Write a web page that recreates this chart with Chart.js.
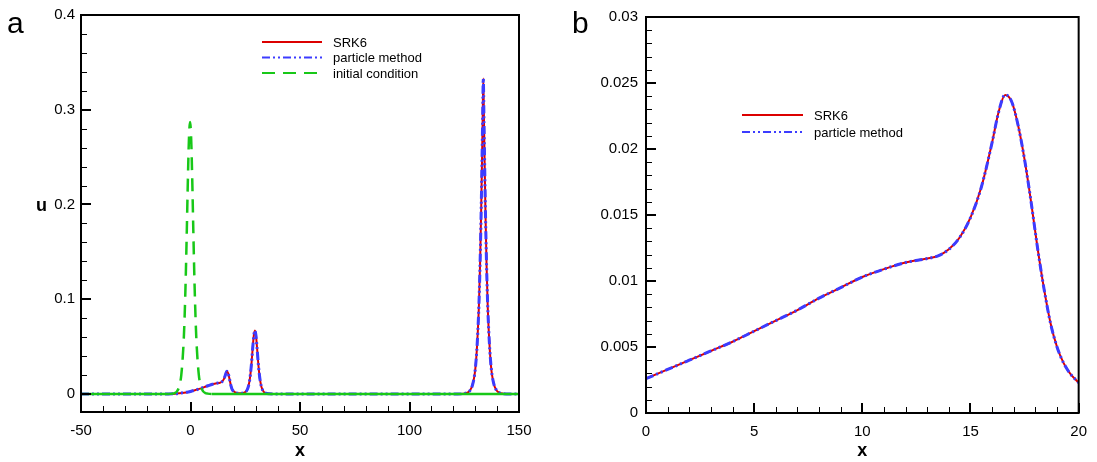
<!DOCTYPE html>
<html>
<head>
<meta charset="utf-8">
<script src="https://cdn.jsdelivr.net/npm/chart.js@4.4.0/dist/chart.umd.min.js"></script>
<style>
    html, body { margin: 0; padding: 0; background: #fff; }
    #wrap { position: relative; width: 1097px; height: 462px; }
    canvas { position: absolute; top: 0; }
    #chartA { left: 0; }
    #chartB { left: 548px; }
</style>
</head>
<body>
<div id="wrap">
    <canvas id="chartA" width="548" height="462"></canvas>
    <canvas id="chartB" width="549" height="462"></canvas>
</div>
<script>
// ---- panel a data ----
const A_X = [
    -50, -10, -7, -5, -3, -1, 0, 2, 4, 6, 8, 10, 12, 13.5, 14.5, 15.5, 16, 16.6, 17.2, 17.8, 18.4, 19, 20,
    21, 22, 23, 24, 25, 26, 26.9, 27.4, 27.9, 28.4, 28.9, 29.4, 29.9, 30.4, 30.9, 31.4, 31.9, 32.4, 33.4, 34.4, 36, 40,
    122, 124.7, 126.7, 127.7, 128.7, 129.7, 130.2, 130.7, 131.2, 131.7, 132.2, 132.7, 133.1, 133.4, 133.7,
    134.0, 134.3, 134.7, 135.2, 135.7, 136.2, 136.7, 137.2, 137.7, 138.7, 139.7, 140.7, 142.7, 146, 150
];
const A_SRK6 = [
    0, 0, 0.0003, 0.0008, 0.0014, 0.0022, 0.0027, 0.0040, 0.0054, 0.0070, 0.0087, 0.0103, 0.0114, 0.0119, 0.0133, 0.0171, 0.0205, 0.0241, 0.0218, 0.0160, 0.0094, 0.0050, 0.0023,
    0.0012, 0.0008, 0.0007, 0.0010, 0.0020, 0.0050, 0.013, 0.0214, 0.0335, 0.0484, 0.0615, 0.067, 0.0615, 0.0484, 0.0335, 0.0214, 0.013, 0.0074, 0.0024, 0.0008, 0.0002, 0,
    0, 0.0004, 0.0018, 0.004, 0.009, 0.020, 0.030, 0.045, 0.066, 0.094, 0.135, 0.19, 0.245, 0.29, 0.333,
    0.29, 0.245, 0.19, 0.135, 0.094, 0.066, 0.045, 0.030, 0.020, 0.009, 0.004, 0.0018, 0.0004, 0, 0
];
// particle method lies on top of SRK6 within the line width
const A_PARTICLE = [
    0, 0, 0.0003, 0.0008, 0.0014, 0.0022, 0.0027, 0.0040, 0.0054, 0.0070, 0.0087, 0.0103, 0.0114, 0.0119, 0.0133, 0.0171, 0.0205, 0.0241, 0.0218, 0.0160, 0.0094, 0.0050, 0.0023,
    0.0012, 0.0008, 0.0007, 0.0010, 0.0020, 0.0050, 0.013, 0.0214, 0.0335, 0.0484, 0.0615, 0.067, 0.0615, 0.0484, 0.0335, 0.0214, 0.013, 0.0074, 0.0024, 0.0008, 0.0002, 0,
    0, 0.0004, 0.0018, 0.004, 0.009, 0.020, 0.030, 0.045, 0.066, 0.094, 0.135, 0.19, 0.245, 0.29, 0.333,
    0.29, 0.245, 0.19, 0.135, 0.094, 0.066, 0.045, 0.030, 0.020, 0.009, 0.004, 0.0018, 0.0004, 0, 0
];
const A_INIT_X = [
    -50, -10.2, -8.2, -7.2, -6.2, -5.2, -4.2, -3.2, -2.7, -2.2, -1.7, -1.2, -0.7, -0.2,
    0.3, 0.8, 1.3, 1.8, 2.3, 2.8, 3.8, 4.8, 5.8, 6.8, 7.8, 9.8, 150
];
const A_INIT = [
    0, 0, 0.0004, 0.001, 0.0028, 0.0076, 0.0203, 0.052, 0.0805, 0.1205, 0.171, 0.226, 0.27, 0.287,
    0.27, 0.226, 0.171, 0.1205, 0.0805, 0.052, 0.0203, 0.0076, 0.0028, 0.001, 0.0004, 0, 0
];
const A_X_TICKS = [-50, 0, 50, 100, 150];
const A_Y_TICKS = [0, 0.1, 0.2, 0.3, 0.4];

// ---- panel b data (zoom of 0 <= x <= 20) ----
const B_X = [0, 1, 2, 3, 4, 5, 6, 7, 8, 9, 10, 11, 12, 13, 13.5, 14, 14.5, 15, 15.5, 16, 16.3, 16.6, 16.9, 17.2, 17.5, 17.8, 18.1, 18.4, 18.7, 19, 19.3, 19.6, 20];
const B_SRK6 = [
    0.0026, 0.0033, 0.0040, 0.0047, 0.0054, 0.0062, 0.0070, 0.0078, 0.0087, 0.0095, 0.0103, 0.0109, 0.0114, 0.0117, 0.0119, 0.0124, 0.0133,
    0.0148, 0.0171, 0.0205, 0.0228, 0.0241, 0.0236, 0.0218, 0.0192, 0.0160, 0.0125, 0.0094, 0.0068, 0.0050, 0.0038, 0.0030, 0.0023
];
const B_PARTICLE = [
    0.0026, 0.0033, 0.0040, 0.0047, 0.0054, 0.0062, 0.0070, 0.0078, 0.0087, 0.0095, 0.0103, 0.0109, 0.0114, 0.0117, 0.0119, 0.0124, 0.0133,
    0.0148, 0.0171, 0.0205, 0.0228, 0.0241, 0.0236, 0.0218, 0.0192, 0.0160, 0.0125, 0.0094, 0.0068, 0.0050, 0.0038, 0.0030, 0.0023
];
const B_X_TICKS = [0, 5, 10, 15, 20];
const B_Y_TICKS = [0, 0.005, 0.01, 0.015, 0.02, 0.025, 0.03];

const FONT = "'Liberation Sans', Arial, Helvetica, sans-serif";
const RED = '#dc0000';
const BLUE = '#3c3cff';
const GREEN = '#18c818';
const DASH_DOT_DOT = [8, 3, 2, 3, 2, 3];
const GREEN_DASH = [13, 8];

function toPoints(xs, ys) {
    return xs.map((x, i) => ({ x: x, y: ys[i] }));
}

// frame + inward tick marks (major and minor), drawn over the curves
const framePlugin = {
    id: 'frame',
    afterDatasetsDraw(chart, args, opts) {
        const { ctx, chartArea: a, scales } = chart;
        const xs = scales.x, ys = scales.y;
        ctx.save();
        ctx.strokeStyle = '#000';

        function run(scale, step, cb) {
            const i0 = Math.ceil(scale.min / step - 1e-9);
            const i1 = Math.floor(scale.max / step + 1e-9);
            for (let i = i0; i <= i1; i++) cb(i * step);
        }
        const isMajor = (v, list) => list.some(t => Math.abs(t - v) < 1e-9);

        // minor ticks
        ctx.lineWidth = 1;
        ctx.beginPath();
        run(xs, opts.xMinor, v => {
            if (isMajor(v, opts.xMajor)) return;
            const p = Math.round(xs.getPixelForValue(v)) + 0.5;
            ctx.moveTo(p, a.bottom);
            ctx.lineTo(p, a.bottom - 6);
        });
        run(ys, opts.yMinor, v => {
            if (isMajor(v, opts.yMajor)) return;
            const p = Math.round(ys.getPixelForValue(v)) + 0.5;
            ctx.moveTo(a.left, p);
            ctx.lineTo(a.left + 6, p);
        });
        ctx.stroke();

        // major ticks
        ctx.lineWidth = 2;
        ctx.beginPath();
        opts.xMajor.forEach(v => {
            const p = Math.round(xs.getPixelForValue(v));
            ctx.moveTo(p, a.bottom);
            ctx.lineTo(p, a.bottom - 10);
        });
        opts.yMajor.forEach(v => {
            const p = Math.round(ys.getPixelForValue(v));
            ctx.moveTo(a.left, p);
            ctx.lineTo(a.left + 10, p);
        });
        ctx.stroke();

        // box
        ctx.lineWidth = 2;
        ctx.strokeRect(a.left, a.top, a.right - a.left, a.bottom - a.top);
        ctx.restore();
    }
};

// legend with line samples + free labels (panel letter, y title)
const legendPlugin = {
    id: 'lineLegend',
    afterDraw(chart, args, opts) {
        const ctx = chart.ctx;
        ctx.save();
        ctx.font = '13px ' + FONT;
        ctx.textBaseline = 'middle';
        ctx.textAlign = 'left';
        chart.data.datasets.forEach((ds, i) => {
            const y = opts.y + i * opts.rowH;
            ctx.strokeStyle = ds.borderColor;
            ctx.lineWidth = 2;
            ctx.setLineDash(ds.borderDash || []);
            ctx.beginPath();
            ctx.moveTo(opts.x, y);
            ctx.lineTo(opts.x + opts.len, y);
            ctx.stroke();
            ctx.fillStyle = '#000';
            ctx.fillText(ds.label, opts.x + opts.len + 11, y + 1);
        });
        ctx.setLineDash([]);
        ctx.textBaseline = 'alphabetic';
        (opts.texts || []).forEach(t => {
            ctx.font = t.font;
            ctx.fillStyle = '#000';
            ctx.fillText(t.text, t.x, t.y);
        });
        ctx.restore();
    }
};

function makeScales(cfg) {
    return {
        x: {
            type: 'linear',
            min: cfg.xMin,
            max: cfg.xMax,
            afterBuildTicks: s => { s.ticks = cfg.xTicks.map(v => ({ value: v })); },
            afterFit: s => { s.height = cfg.xHeight; },
            grid: { display: false, drawTicks: false },
            border: { display: false },
            ticks: {
                color: '#000',
                padding: 10,
                maxRotation: 0,
                autoSkip: false,
                font: { family: FONT, size: 15 },
                callback: v => String(v)
            },
            title: {
                display: true,
                text: 'x',
                color: '#000',
                padding: { top: 0, bottom: 0 },
                font: { family: FONT, size: 18, weight: 'bold' }
            }
        },
        y: {
            type: 'linear',
            min: cfg.yMin,
            max: cfg.yMax,
            afterBuildTicks: s => { s.ticks = cfg.yTicks.map(v => ({ value: v })); },
            afterFit: s => { s.width = cfg.yWidth; },
            grid: { display: false, drawTicks: false },
            border: { display: false },
            ticks: {
                color: '#000',
                padding: cfg.yPad,
                autoSkip: false,
                font: { family: FONT, size: 15 },
                callback: v => String(v)
            }
        }
    };
}

function initPanelA() {
    const ctx = document.getElementById('chartA');
    return new Chart(ctx.getContext('2d'), {
        type: 'line',
        data: {
            datasets: [{
                label: 'SRK6',
                data: toPoints(A_X, A_SRK6),
                borderColor: RED,
                borderWidth: 2,
                cubicInterpolationMode: 'monotone',
                order: 3
            }, {
                label: 'particle method',
                data: toPoints(A_X, A_PARTICLE),
                borderColor: BLUE,
                borderWidth: 3,
                borderDash: DASH_DOT_DOT,
                cubicInterpolationMode: 'monotone',
                order: 2
            }, {
                label: 'initial condition',
                data: toPoints(A_INIT_X, A_INIT),
                borderColor: GREEN,
                borderWidth: 2.5,
                borderDash: GREEN_DASH,
                cubicInterpolationMode: 'monotone',
                // flat parts look solid in the original, only the pulse is dashed
                segment: {
                    borderDash: c => (c.p0.parsed.y > 0 || c.p1.parsed.y > 0) ? GREEN_DASH : []
                },
                order: 1
            }]
        },
        options: {
            responsive: false,
            animation: false,
            layout: { padding: { top: 13, right: 29, left: 0, bottom: 0 } },
            elements: { point: { radius: 0 } },
            plugins: {
                legend: { display: false },
                tooltip: { enabled: false },
                frame: { xMajor: A_X_TICKS, yMajor: A_Y_TICKS, xMinor: 10, yMinor: 0.02 },
                lineLegend: {
                    x: 262, y: 42, len: 60, rowH: 15.5,
                    texts: [
                        { text: 'a', x: 7, y: 33, font: '30px ' + FONT },
                        { text: 'u', x: 36, y: 211, font: 'bold 18px ' + FONT }
                    ]
                }
            },
            scales: makeScales({
                xMin: -50, xMax: 150, xTicks: A_X_TICKS, xHeight: 50,
                yMin: -0.019, yMax: 0.4, yTicks: A_Y_TICKS, yWidth: 81, yPad: 6
            })
        },
        plugins: [framePlugin, legendPlugin]
    });
}

function initPanelB() {
    const ctx = document.getElementById('chartB');
    return new Chart(ctx.getContext('2d'), {
        type: 'line',
        data: {
            datasets: [{
                label: 'SRK6',
                data: toPoints(B_X, B_SRK6),
                borderColor: RED,
                borderWidth: 2,
                cubicInterpolationMode: 'monotone',
                order: 2
            }, {
                label: 'particle method',
                data: toPoints(B_X, B_PARTICLE),
                borderColor: BLUE,
                borderWidth: 3,
                borderDash: DASH_DOT_DOT,
                cubicInterpolationMode: 'monotone',
                order: 1
            }]
        },
        options: {
            responsive: false,
            animation: false,
            layout: { padding: { top: 13, right: 13, left: 0, bottom: 0 } },
            elements: { point: { radius: 0 } },
            plugins: {
                legend: { display: false },
                tooltip: { enabled: false },
                frame: { xMajor: B_X_TICKS, yMajor: B_Y_TICKS, xMinor: 1, yMinor: 0.001 },
                lineLegend: {
                    x: 194, y: 115, len: 61, rowH: 17,
                    texts: [
                        { text: 'b', x: 24, y: 33, font: '30px ' + FONT }
                    ]
                }
            },
            scales: makeScales({
                xMin: 0, xMax: 20, xTicks: B_X_TICKS, xHeight: 49,
                yMin: 0, yMax: 0.03, yTicks: B_Y_TICKS, yWidth: 98, yPad: 8
            })
        },
        plugins: [framePlugin, legendPlugin]
    });
}

initPanelA();
initPanelB();
</script>
</body>
</html>
